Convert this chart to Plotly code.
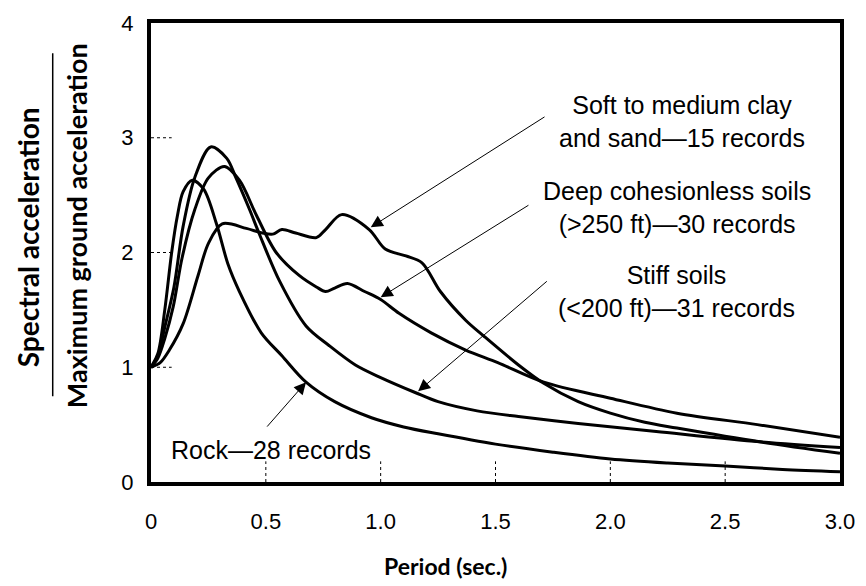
import plotly.graph_objects as go

# ---- data ----
rock_x = [0, 0.03, 0.06, 0.09, 0.115, 0.14, 0.18, 0.23, 0.285, 0.335, 0.385, 0.48, 0.57, 0.675, 0.8, 0.96, 1.1, 1.25, 1.5, 1.75, 2.0, 2.25, 2.5, 2.75, 3.0]
rock_y = [1.0, 1.12, 1.5, 2.0, 2.32, 2.53, 2.63, 2.55, 2.25, 1.9, 1.66, 1.3, 1.1, 0.87, 0.7, 0.56, 0.48, 0.42, 0.33, 0.26, 0.2, 0.165, 0.14, 0.11, 0.09]

stiff_x = [0, 0.03, 0.06, 0.1, 0.14, 0.19, 0.26, 0.33, 0.37, 0.43, 0.47, 0.56, 0.675, 0.775, 0.89, 1.0, 1.15, 1.25, 1.42, 1.6, 1.86, 2.2, 2.65, 3.0]
stiff_y = [1.0, 1.1, 1.35, 1.7, 2.23, 2.65, 2.92, 2.82, 2.65, 2.37, 2.17, 1.75, 1.36, 1.19, 1.02, 0.91, 0.78, 0.7, 0.62, 0.57, 0.51, 0.44, 0.35, 0.3]

deep_x = [0, 0.03, 0.06, 0.097, 0.135, 0.19, 0.25, 0.32, 0.385, 0.46, 0.545, 0.645, 0.72, 0.76, 0.8, 0.855, 0.93, 1.0, 1.08, 1.22, 1.37, 1.51, 1.71, 2.0, 2.29, 2.64, 3.0]
deep_y = [1.0, 1.08, 1.25, 1.53, 1.95, 2.37, 2.65, 2.75, 2.63, 2.32, 2.0, 1.8, 1.7, 1.66, 1.69, 1.73, 1.66, 1.59, 1.47, 1.3, 1.15, 1.04, 0.87, 0.73, 0.6, 0.5, 0.39]

soft_x = [0, 0.04, 0.08, 0.14, 0.205, 0.25, 0.31, 0.415, 0.485, 0.53, 0.57, 0.63, 0.72, 0.76, 0.83, 0.95, 1.02, 1.11, 1.18, 1.26, 1.37, 1.45, 1.6, 1.71, 1.86, 2.0, 2.15, 2.29, 2.65, 3.0]
soft_y = [1.0, 1.04, 1.15, 1.38, 1.8, 2.08, 2.25, 2.21, 2.17, 2.16, 2.2, 2.17, 2.13, 2.2, 2.33, 2.2, 2.03, 1.97, 1.91, 1.66, 1.41, 1.27, 1.02, 0.86, 0.7, 0.6, 0.52, 0.47, 0.35, 0.25]

x_ticks = [0, 0.5, 1.0, 1.5, 2.0, 2.5, 3.0]
x_ticklabels = ["0", "0.5", "1.0", "1.5", "2.0", "2.5", "3.0"]
y_ticks = [0, 1, 2, 3, 4]
y_ticklabels = ["0", "1", "2", "3", "4"]

labels = [
    "Soft to medium clay<br>and sand—15 records",
    "Deep cohesionless soils<br>(&gt;250 ft)—30 records",
    "Stiff soils<br>(&lt;200 ft)—31 records",
    "Rock—28 records",
]
label_pos = [(2.31, 3.14), (2.29, 2.39), (2.29, 1.66), (0.524, 0.28)]
arrow_tip = [(0.957, 2.22), (1.0, 1.61), (1.163, 0.79), (0.675, 0.87)]
arrow_tail = [(1.72, 3.19), (1.65, 2.42), (1.73, 1.76), (0.50, 0.47)]

TXT = "Liberation Sans, Arial, sans-serif"
BOLD = "Lato, Open Sans, sans-serif"

fig = go.Figure()
for xs, ys in [(rock_x, rock_y), (stiff_x, stiff_y), (deep_x, deep_y), (soft_x, soft_y)]:
    fig.add_trace(go.Scatter(x=xs, y=ys, mode="lines",
                             line=dict(color="black", width=3, shape="spline", smoothing=0.9),
                             showlegend=False, hoverinfo="skip"))

anns = []
for (tx, ty), (hx, hy) in zip(arrow_tail, arrow_tip):
    anns.append(dict(x=hx, y=hy, ax=tx, ay=ty, xref="x", yref="y", axref="x", ayref="y",
                     text="", showarrow=True, arrowhead=2, arrowsize=2.4, arrowwidth=1,
                     arrowcolor="black", standoff=0))
for t, (lx, ly) in zip(labels, label_pos):
    anns.append(dict(x=lx, y=ly, xref="x", yref="y", text=t, showarrow=False,
                     xanchor="center", yanchor="middle",
                     font=dict(family=TXT, size=25, color="black"), align="center"))

# axis titles
anns.append(dict(x=(448 - 151) / 694, y=(483 - 569) / 471, xref="paper", yref="paper",
                 xanchor="center", yanchor="middle",
                 text="<b>Period (sec.)</b>", showarrow=False,
                 font=dict(family=BOLD, size=23, color="black")))
anns.append(dict(x=(28 - 151) / 694, y=(483 - 232) / 471, xref="paper", yref="paper",
                 xanchor="center", yanchor="middle",
                 text="<b>Spectral acceleration</b>", textangle=-90, showarrow=False,
                 font=dict(family=BOLD, size=28, color="black")))
anns.append(dict(x=(76 - 151) / 694, y=(483 - 220) / 471, xref="paper", yref="paper",
                 xanchor="center", yanchor="middle",
                 text="<b>Maximum ground acceleration</b>", textangle=-90, showarrow=False,
                 font=dict(family=BOLD, size=27, color="black")))

shapes = []
# fraction line between the two y-title lines
shapes.append(dict(type="line", xref="paper", yref="paper",
                   x0=(52 - 151) / 694, x1=(52 - 151) / 694,
                   y0=(483 - 395) / 471, y1=(483 - 43) / 471,
                   line=dict(color="black", width=1.5)))
# dashed inner ticks
for v in x_ticks[1:-1]:
    shapes.append(dict(type="line", xref="x", yref="paper", x0=v, x1=v, y0=0, y1=0.045,
                       line=dict(color="black", width=1, dash="3px,3px")))
for v in y_ticks[1:-1]:
    shapes.append(dict(type="line", xref="paper", yref="y", x0=0, x1=0.03, y0=v, y1=v,
                       line=dict(color="black", width=1, dash="3px,3px")))

fig.update_layout(
    width=866, height=586,
    margin=dict(l=151, r=21, t=11, b=104),
    paper_bgcolor="white", plot_bgcolor="white",
    annotations=anns, shapes=shapes,
    xaxis=dict(range=[0, 3], tickvals=x_ticks, ticktext=x_ticklabels,
               showgrid=False, zeroline=False, showline=True, linewidth=4,
               linecolor="black", mirror=True, ticks="",
               ticklabelstandoff=17,
               tickfont=dict(family=TXT, size=22, color="black")),
    yaxis=dict(range=[0, 4], tickvals=y_ticks, ticktext=y_ticklabels,
               showgrid=False, zeroline=False, showline=True, linewidth=4,
               linecolor="black", mirror=True, ticks="",
               ticklabelstandoff=9,
               tickfont=dict(family=TXT, size=22, color="black")),
)

fig.write_html("out.html")
